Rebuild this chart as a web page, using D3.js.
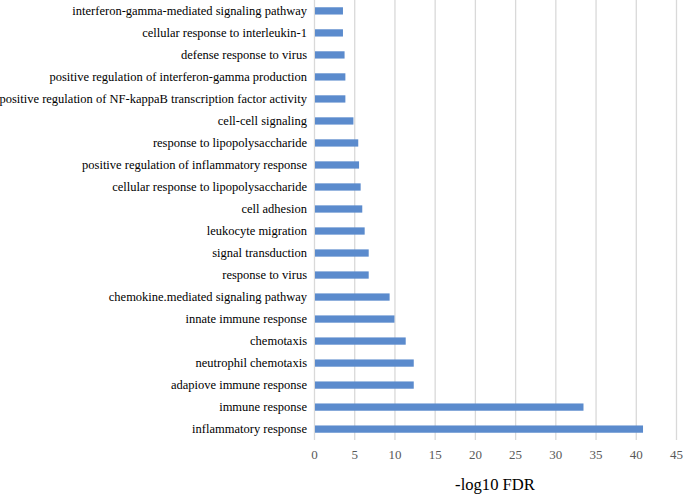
<!DOCTYPE html>
<html>
<head>
<meta charset="utf-8">
<script src="https://d3js.org/d3.v7.min.js"></script>
<style>
body { margin: 0; background: #fff; }
svg { display: block; font-family: 'Liberation Serif', 'Times New Roman', serif; }
</style>
</head>
<body>
<svg width="684" height="494"></svg>
<script>
// GO terms, top to bottom as drawn
var terms = [
  "interferon-gamma-mediated signaling pathway",
  "cellular response to interleukin-1",
  "defense response to virus",
  "positive regulation of interferon-gamma production",
  "positive regulation of NF-kappaB transcription factor activity",
  "cell-cell signaling",
  "response to lipopolysaccharide",
  "positive regulation of inflammatory response",
  "cellular response to lipopolysaccharide",
  "cell adhesion",
  "leukocyte migration",
  "signal transduction",
  "response to virus",
  "chemokine.mediated signaling pathway",
  "innate immune response",
  "chemotaxis",
  "neutrophil chemotaxis",
  "adapiove immune response",
  "immune response",
  "inflammatory response"
];
var fdr = [3.6, 3.6, 3.8, 3.9, 3.9, 4.9, 5.5, 5.6, 5.8, 6.0, 6.3, 6.8, 6.8, 9.4, 10.0, 11.4, 12.4, 12.4, 33.5, 40.9];
var xTicks = [0, 5, 10, 15, 20, 25, 30, 35, 40, 45];

var svg = d3.select("svg");
// note: "top" is taken by window.top, so plot edges get their own names
var plotLeft = 314, plotRight = 676, plotTop = 0, plotBottom = 440;

var x = d3.scaleLinear().domain([0, 45]).range([plotLeft, plotRight]);
var y = d3.scaleBand().domain(terms).range([plotTop, plotBottom]).paddingInner(0.67).paddingOuter(0.33);

// gridlines
svg.selectAll("line.grid").data(xTicks).enter().append("line")
  .attr("class", "grid")
  .attr("x1", d => x(d) + 0.5).attr("x2", d => x(d) + 0.5)
  .attr("y1", plotTop).attr("y2", plotBottom)
  .attr("stroke", "#d9d9d9").attr("stroke-width", 1.3);

// bars
svg.selectAll("rect.bar").data(fdr).enter().append("rect")
  .attr("class", "bar")
  .attr("x", x(0) + 1)
  .attr("y", (d, i) => y(terms[i]))
  .attr("width", d => x(d) - x(0) - 1)
  .attr("height", y.bandwidth())
  .attr("fill", "#5b8bcd");

// category labels
svg.selectAll("text.cat").data(terms).enter().append("text")
  .attr("class", "cat")
  .attr("x", 307)
  .attr("y", d => y(d) + y.bandwidth() / 2)
  .attr("dy", "0.35em")
  .attr("text-anchor", "end")
  .attr("font-size", 12.5)
  .attr("fill", "#000")
  .text(d => d);

// x axis labels
var xAxis = d3.axisBottom(x).tickValues(xTicks).tickSize(0).tickPadding(0);
var gx = svg.append("g").attr("transform", "translate(0,450)").call(xAxis);
gx.select(".domain").remove();
gx.selectAll("text")
  .attr("font-family", "'Liberation Serif', 'Times New Roman', serif")
  .attr("font-size", 13)
  .attr("fill", "#595959");

svg.append("text")
  .attr("x", 495).attr("y", 490)
  .attr("text-anchor", "middle")
  .attr("font-size", 16.6)
  .attr("fill", "#000")
  .text("-log10 FDR");
</script>
</body>
</html>
